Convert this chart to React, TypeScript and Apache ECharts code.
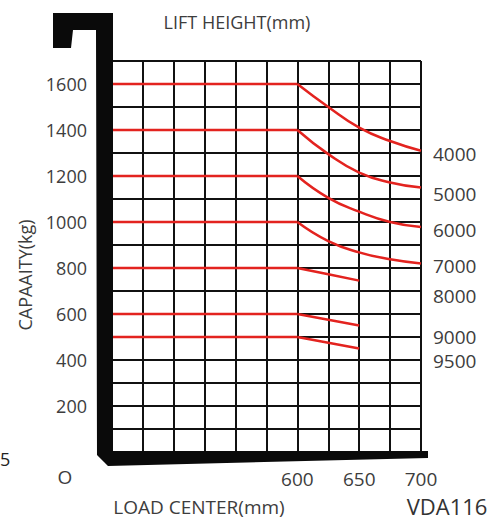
import React, { useEffect, useRef } from "react";
import * as echarts from "echarts";

// Lift heights (mm) – one capacity curve per height
const liftHeights = ["4000", "5000", "6000", "7000", "8000", "9000", "9500"];
// Capacity (kg) is flat from this load centre up to 600 mm
const flatStart = 450;
const loadCentersLong = [600, 625, 650, 675, 700];
const loadCentersShort = [600, 625, 650];
const cap4000 = [1600, 1500, 1410, 1352, 1310];
const cap5000 = [1400, 1295, 1215, 1172, 1150];
const cap6000 = [1200, 1105, 1045, 1000, 978];
const cap7000 = [1000, 917, 868, 838, 820];
const cap8000 = [800, 773, 745];
const cap9000 = [600, 575, 550];
const cap9500 = [500, 475, 450];
const capacities = [cap4000, cap5000, cap6000, cap7000, cap8000, cap9000, cap9500];

const xTickLabels = [600, 650, 700];
const yTickLabels = [200, 400, 600, 800, 1000, 1200, 1400, 1600];

const FONT = "Open Sans";
const TXT = "#3d3d3d";
const RED = "#e3231f";

export default function App() {
  const ref = useRef<HTMLDivElement>(null);
  useEffect(() => {
    if (!ref.current) return;
    const chart = echarts.init(ref.current, undefined, { renderer: "svg" });
    const series: any[] = [];
    capacities.forEach((cap, i) => {
      const xs = cap.length === 5 ? loadCentersLong : loadCentersShort;
      series.push({
        name: liftHeights[i] + "-flat",
        type: "line",
        data: [[flatStart, cap[0]], [xs[0], cap[0]]],
        showSymbol: false,
        lineStyle: { color: RED, width: 2.5 },
        z: 5,
      });
      series.push({
        name: liftHeights[i],
        type: "line",
        data: xs.map((x, j) => [x, cap[j]]),
        smooth: 0.5,
        showSymbol: false,
        lineStyle: { color: RED, width: 2.5 },
        z: 5,
      });
    });
    const rightLabelY = [154, 194, 230, 266, 296, 337, 361];
    const graphic: any[] = [
      {
        type: "polygon",
        z: 100,
        shape: {
          points: [
            [53, 13], [113, 13], [113, 451], [428, 451], [428, 458],
            [108, 466], [97, 455], [96, 30], [73, 30], [71, 48], [53, 48],
          ],
        },
        style: { fill: "#0a0a0a" },
      },
      { type: "text", x: 237, y: 22, style: { text: "LIFT HEIGHT(mm)", fontSize: 18, fontFamily: FONT, fill: TXT, align: "center", verticalAlign: "middle" } },
      { type: "text", x: 25, y: 275, rotation: Math.PI / 2, style: { text: "CAPAAITY(kg)", fontSize: 18, fontFamily: FONT, fill: TXT, align: "center", verticalAlign: "middle" } },
      { type: "text", x: 199, y: 507, style: { text: "LOAD CENTER(mm)", fontSize: 19, fontFamily: FONT, fill: TXT, align: "center", verticalAlign: "middle" } },
      { type: "text", x: 447, y: 506, style: { text: "VDA116", fontSize: 22, fontFamily: FONT, fill: "#333", align: "center", verticalAlign: "middle" } },
      { type: "text", x: 65, y: 477, style: { text: "O", fontSize: 19, fontFamily: FONT, fill: TXT, align: "center", verticalAlign: "middle" } },
      { type: "text", x: 0, y: 459, style: { text: "5", fontSize: 18, fontFamily: FONT, fill: "#222", align: "left", verticalAlign: "middle" } },
      ...liftHeights.map((h, i) => ({
        type: "text",
        x: 433,
        y: rightLabelY[i],
        style: { text: h, fontSize: 19, fontFamily: FONT, fill: TXT, align: "left", verticalAlign: "middle" },
      })),
    ];
    chart.setOption({
      animation: false,
      grid: { left: 112, right: 74, top: 61, bottom: 68 },
      xAxis: {
        type: "value",
        min: 450,
        max: 700,
        interval: 25,
        axisLine: { show: false },
        axisTick: { show: false },
        splitLine: { show: true, lineStyle: { color: "#111", width: 2 } },
        axisLabel: {
          margin: 17,
          fontSize: 19,
          fontFamily: FONT,
          color: TXT,
          formatter: (v: number) => (xTickLabels.includes(v) ? String(v) : ""),
        },
      },
      yAxis: {
        type: "value",
        min: 0,
        max: 1700,
        interval: 100,
        axisLine: { show: false },
        axisTick: { show: false },
        splitLine: { show: true, lineStyle: { color: "#111", width: 2 } },
        axisLabel: {
          margin: 25,
          fontSize: 18,
          fontFamily: FONT,
          color: TXT,
          formatter: (v: number) => (yTickLabels.includes(v) ? String(v) : ""),
        },
      },
      series,
      graphic,
    });
    return () => chart.dispose();
  }, []);
  return (
    <div
      ref={ref}
      style={{ position: "absolute", left: 0, top: 0, width: 495, height: 520, background: "#fff" }}
    />
  );
}
